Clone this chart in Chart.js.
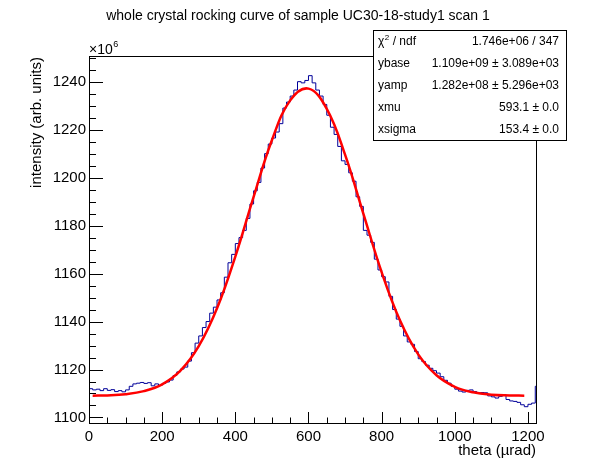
<!DOCTYPE html>
<html lang="en">
<head>
    <meta charset="UTF-8">
    <title>whole crystal rocking curve</title>
    <script src="https://cdn.jsdelivr.net/npm/chart.js"></script>
    <style>
        body { margin: 0; background: #fff; }
    </style>
</head>
<body>
    <canvas id="rocking" width="596" height="472"></canvas>
    <script>
        // histogram: 10 urad bins starting at theta = 0, intensity in units of 1e6
        const binWidth = 10;
        const intensity = [
            1112.0, 1111.5, 1111.8, 1111.2, 1112.0, 1111.3, 1111.6, 1110.8, 1111.2, 1110.7,
            1111.5, 1113.0, 1114.0, 1114.3, 1114.6, 1114.2, 1114.5, 1113.2, 1114.0, 1113.4,
            1114.2, 1114.8, 1115.6, 1117.5, 1119.0, 1120.2, 1121.0, 1123.5, 1127.0, 1131.0,
            1134.0, 1137.5, 1140.0, 1143.5, 1146.0, 1149.0, 1152.0, 1158.5, 1164.5, 1168.0,
            1172.5, 1175.0, 1178.0, 1183.0, 1189.0, 1194.5, 1198.0, 1204.0, 1210.0, 1214.0,
            1216.5, 1219.0, 1222.5, 1229.0, 1231.5, 1234.0, 1236.5, 1240.0, 1239.5, 1240.5,
            1242.5, 1239.5, 1236.5, 1234.0, 1230.5, 1226.0, 1221.0, 1218.0, 1213.0, 1207.0,
            1205.5, 1202.0, 1198.5, 1192.0, 1188.0, 1178.0, 1176.0, 1173.0, 1166.0, 1161.5,
            1158.7, 1156.5, 1150.5, 1145.0, 1141.0, 1138.0, 1134.0, 1131.5, 1130.5, 1127.5,
            1124.5, 1123.3, 1121.8, 1120.5, 1119.5, 1118.5, 1117.0, 1115.5, 1114.3, 1113.0,
            1111.8, 1111.0, 1110.6, 1111.3, 1111.5, 1110.8, 1110.2, 1110.4, 1110.3, 1109.0,
            1108.6, 1108.1, 1108.8, 1109.5, 1107.5, 1106.9, 1106.7, 1106.3, 1105.3, 1104.5,
            1105.5, 1106.0, 1113.0
        ];

        // red fit curve
        const fitTheta = [10, 50, 100, 150, 200, 250, 300, 350, 400, 450, 500, 550, 600,
                          650, 700, 750, 800, 850, 900, 950, 1000, 1050, 1100, 1150, 1190];
        const fitIntensity = [1109.1, 1109.2, 1109.7, 1111.0, 1113.8, 1119.5, 1129.7, 1145.5,
                              1167.1, 1192.0, 1215.6, 1232.2, 1237.1, 1228.7, 1209.6, 1185.0,
                              1160.6, 1140.5, 1126.3, 1117.6, 1112.8, 1110.5, 1109.5, 1109.2, 1109.1];

        const xTicks = [0, 200, 400, 600, 800, 1000, 1200];
        const yTicks = [1100, 1120, 1140, 1160, 1180, 1200, 1220, 1240];
        const xMin = 0, xMax = 1222;
        const yMin = 1097.7, yMax = 1250.7;

        const statRows = [
            ['chi2', '1.746e+06 / 347'],
            ['ybase', '1.109e+09 \u00b1 3.089e+03'],
            ['yamp', '1.282e+08 \u00b1 5.296e+03'],
            ['xmu', '593.1 \u00b1 0.0'],
            ['xsigma', '153.4 \u00b1 0.0']
        ];

        const FONT = '"Liberation Sans", Arial, Helvetica, sans-serif';

        const histPoints = intensity.map((v, i) => ({ x: i * binWidth, y: v }));
        histPoints.push({ x: intensity.length * binWidth, y: intensity[intensity.length - 1] });
        const fitPoints = fitTheta.map((t, i) => ({ x: t, y: fitIntensity[i] }));

        // ROOT style frame, inward ticks, titles and stats box
        const rootDecor = {
            id: 'rootDecor',
            afterDraw(chart) {
                const ctx = chart.ctx;
                const a = chart.chartArea;
                const xs = chart.scales.x, ys = chart.scales.y;
                ctx.save();
                ctx.strokeStyle = '#000';
                ctx.lineWidth = 1;
                ctx.strokeRect(Math.round(a.left) + 0.5, Math.round(a.top) + 0.5,
                               Math.round(a.right - a.left), Math.round(a.bottom - a.top));

                ctx.beginPath();
                const xStep = xTicks[1] - xTicks[0];
                for (let v = xMin; v <= xMax; v += xStep / 4) {
                    const px = Math.round(xs.getPixelForValue(v)) + 0.5;
                    const len = (v % xStep === 0) ? 11 : 5.5;
                    ctx.moveTo(px, a.bottom);
                    ctx.lineTo(px, a.bottom - len);
                }
                const yStep = yTicks[1] - yTicks[0];
                for (let v = yTicks[0] - yStep; v <= yMax; v += yStep / 4) {
                    if (v < yMin) continue;
                    const py = Math.round(ys.getPixelForValue(v)) + 0.5;
                    const len = ((v - yTicks[0]) % yStep === 0) ? 14 : 7;
                    ctx.moveTo(a.left, py);
                    ctx.lineTo(a.left + len, py);
                }
                ctx.stroke();

                ctx.fillStyle = '#000';
                ctx.textBaseline = 'alphabetic';

                // title
                ctx.font = '14px ' + FONT;
                ctx.textAlign = 'center';
                ctx.fillText('whole crystal rocking curve of sample UC30-18-study1 scan 1', 298, 20);

                // axis titles
                ctx.font = '15px ' + FONT;
                ctx.textAlign = 'right';
                ctx.fillText('theta (\u00b5rad)', a.right, 455);
                ctx.save();
                ctx.translate(41, a.top + 1);
                ctx.rotate(-Math.PI / 2);
                ctx.fillText('intensity (arb. units)', 0, 0);
                ctx.restore();

                // exponent label
                ctx.textAlign = 'left';
                ctx.font = '14px ' + FONT;
                ctx.fillText('\u00d710', a.left, 54);
                const w10 = ctx.measureText('\u00d710').width;
                ctx.font = '9px ' + FONT;
                ctx.fillText('6', a.left + w10 + 0.5, 47);

                // stats box
                const bx = 373, by = 30, bw = 193, bh = 110;
                ctx.fillStyle = '#fff';
                ctx.fillRect(bx, by, bw, bh);
                ctx.strokeRect(bx + 0.5, by + 0.5, bw, bh);
                ctx.fillStyle = '#000';
                const rowH = bh / statRows.length;
                statRows.forEach((row, i) => {
                    const yb = by + rowH * i + rowH / 2 + 4;
                    ctx.font = '12px ' + FONT;
                    ctx.textAlign = 'left';
                    if (row[0] === 'chi2') {
                        ctx.fillText('\u03c7', bx + 5, yb);
                        const wc = ctx.measureText('\u03c7').width;
                        ctx.font = '8px ' + FONT;
                        ctx.fillText('2', bx + 5 + wc + 0.5, yb - 5);
                        ctx.font = '12px ' + FONT;
                        ctx.fillText(' / ndf', bx + 5 + wc + 5, yb);
                    } else {
                        ctx.fillText(row[0], bx + 5, yb);
                    }
                    ctx.textAlign = 'right';
                    ctx.fillText(row[1], bx + bw - 7, yb);
                });
                ctx.restore();
            }
        };

        new Chart(document.getElementById('rocking'), {
            type: 'line',
            data: {
                datasets: [
                    {
                        label: 'data',
                        data: histPoints,
                        stepped: true,
                        borderColor: '#000099',
                        borderWidth: 1,
                        pointRadius: 0,
                        fill: false,
                        order: 2
                    },
                    {
                        label: 'fit',
                        data: fitPoints,
                        borderColor: '#ff0000',
                        borderWidth: 2.5,
                        pointRadius: 0,
                        tension: 0.4,
                        fill: false,
                        order: 1
                    }
                ]
            },
            options: {
                responsive: false,
                animation: false,
                devicePixelRatio: 1,
                layout: { padding: { left: 0, top: 56, right: 60, bottom: 0 } },
                plugins: {
                    legend: { display: false },
                    tooltip: { enabled: false },
                    title: { display: false }
                },
                scales: {
                    x: {
                        type: 'linear',
                        min: xMin,
                        max: xMax,
                        grid: { display: false, drawTicks: false },
                        border: { display: false },
                        afterBuildTicks: (scale) => { scale.ticks = xTicks.map(v => ({ value: v })); },
                        afterFit: (scale) => { scale.height = 49; },
                        ticks: { color: '#000', padding: 5, maxRotation: 0,
                                 font: { family: FONT, size: 15 },
                                 callback: (v) => String(v) }
                    },
                    y: {
                        type: 'linear',
                        min: yMin,
                        max: yMax,
                        grid: { display: false, drawTicks: false },
                        border: { display: false },
                        afterBuildTicks: (scale) => { scale.ticks = yTicks.map(v => ({ value: v })); },
                        afterFit: (scale) => { scale.width = 89; },
                        ticks: { color: '#000', padding: 3,
                                 font: { family: FONT, size: 15 },
                                 callback: (v) => String(v) }
                    }
                }
            },
            plugins: [rootDecor]
        });
    </script>
</body>
</html>
